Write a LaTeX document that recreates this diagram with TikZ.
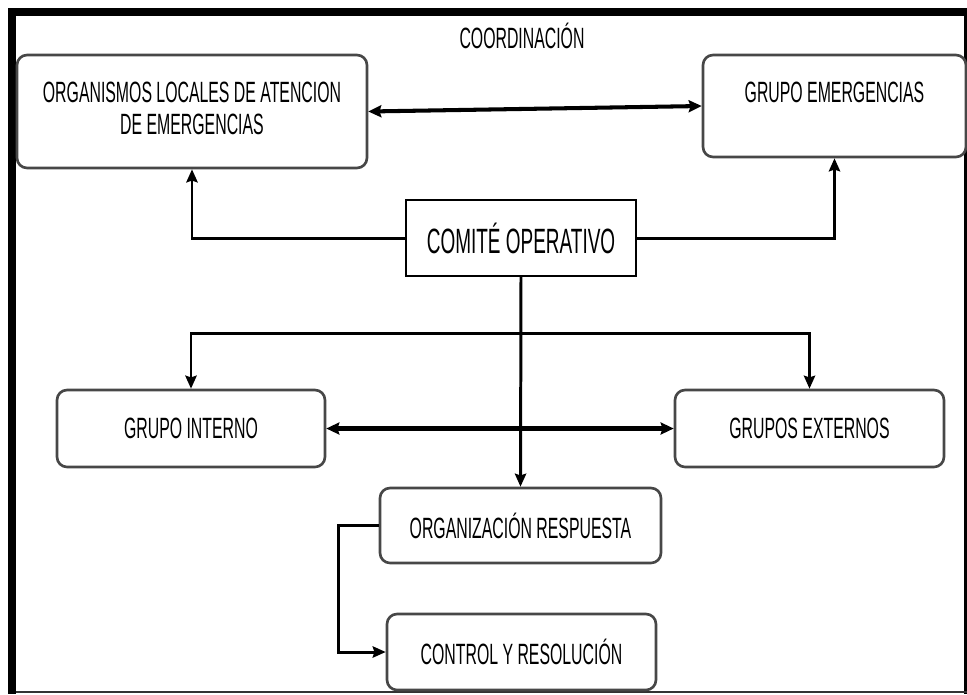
\documentclass[tikz,border=0pt]{standalone}
\usepackage{fontspec}
\setmainfont{Liberation Sans}[FakeStretch=0.54]
\usepackage{tikz}
\usetikzlibrary{arrows.meta}
\usetikzlibrary{positioning}
\tikzstyle{box_round}=[draw=black!72, line width=1.5pt, rounded corners=0.2cm, fill=white, align=center, inner sep=0pt, font=\fontsize{16.7}{18}\selectfont]
\tikzstyle{box_plain}=[draw=black, line width=1.3pt, fill=white, inner sep=0pt, font=\fontsize{20}{22}\selectfont]
\tikzstyle{link}=[draw=black, line width=1.7pt, -{Stealth[length=7.4pt,width=6.4pt,inset=1pt]}]
\tikzstyle{link_both}=[draw=black, line width=2.3pt, {Stealth[length=7.4pt,width=6.8pt,inset=1pt]}-{Stealth[length=7.4pt,width=6.8pt,inset=1pt]}]

\begin{document}
\begin{tikzpicture}[x=0.02cm, y=-0.02cm]
          \useasboundingbox (0,0) rectangle (967,694);
          % frame
          \fill[black] (8,8) rectangle (967,16);
          \fill[black] (8,8) rectangle (16,694);
          \fill[black] (964,16) rectangle (967,694);
          \draw[black!80, line width=0.8pt] (16,692) -- (967,692);
          \node[anchor=base, font=\fontsize{16.7}{18}\selectfont] (coord) at (522,48){COORDINACIÓN};
          \node[box_round, minimum width=7cm, minimum height=2.26cm] (organismos) at (192,111.5){ORGANISMOS LOCALES DE ATENCION\\[0pt]DE EMERGENCIAS\\[-14pt]~};
          \node[box_round, minimum width=5.26cm, minimum height=2.04cm] (emergencias) at (834.5,106){GRUPO EMERGENCIAS\\[-2pt]~};
          \draw[link_both] (organismos.east) -- (emergencias.west);
          \node[box_plain, minimum width=4.6cm, minimum height=1.52cm] (comite) at (521,238){COMITÉ OPERATIVO};
          \draw[link] (comite.west) -| (organismos.south);
          \draw[link] (comite.east) -| (emergencias.south);
          \node[box_round, minimum width=5.36cm, minimum height=1.54cm] (interno) at (191,428.5){GRUPO INTERNO};
          \node[box_round, minimum width=5.38cm, minimum height=1.54cm] (externos) at (809.5,428.5){GRUPOS EXTERNOS};
          \node[box_round, minimum width=5.62cm, minimum height=1.5cm] (respuesta) at (520.5,525.5){ORGANIZACIÓN RESPUESTA};
          \node[box_round, minimum width=5.38cm, minimum height=1.52cm] (control) at (521.5,652){CONTROL Y RESOLUCIÓN};
          \coordinate (bar) at (521,333);
          \draw[link] (comite.south) -- (respuesta.north);
          \draw[link] (bar) -| (interno.north);
          \draw[link] (bar) -| (externos.north);
          \draw[link_both] (interno.east) -- (externos.west);
          \draw[link] (respuesta.west) -- ++(-40,0) |- (control.west);
        \end{tikzpicture}
\end{document}
